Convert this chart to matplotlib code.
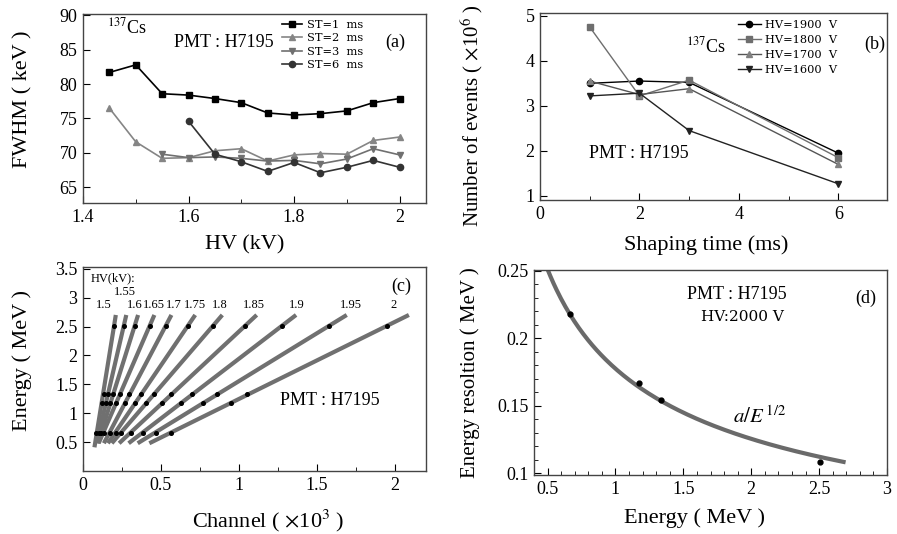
import numpy as np
import matplotlib
matplotlib.use("Agg")
import matplotlib.pyplot as plt
from matplotlib.ticker import MultipleLocator, FormatStrFormatter

plt.rcParams['font.family'] = ['Liberation Serif', 'DejaVu Serif']
plt.rcParams['mathtext.fontset'] = 'stix'

# (a) FWHM vs HV for several shaping times
hv_a = [1.45, 1.5, 1.55, 1.6, 1.65, 1.7, 1.75, 1.8, 1.85, 1.9, 1.95, 2.0]
fwhm_st1 = [81.7, 82.8, 78.6, 78.4, 77.9, 77.3, 75.8, 75.5, 75.7, 76.1, 77.3, 77.9]
fwhm_st2 = [76.5, 71.6, 69.2, 69.3, 70.3, 70.6, 68.8, 69.7, 69.9, 69.8, 71.8, 72.3]
hv_st3 = [1.55, 1.6, 1.65, 1.7, 1.75, 1.8, 1.85, 1.9, 1.95, 2.0]
fwhm_st3 = [69.8, 69.3, 69.4, 69.2, 68.8, 68.9, 68.4, 69.1, 70.6, 69.7]
hv_st6 = [1.6, 1.65, 1.7, 1.75, 1.8, 1.85, 1.9, 1.95, 2.0]
fwhm_st6 = [74.6, 69.8, 68.7, 67.3, 68.6, 67.1, 67.9, 68.9, 67.9]

# (b) number of events vs shaping time
shaping = [1, 2, 3, 6]
ev_1900 = [3.50, 3.55, 3.52, 1.95]
ev_1800 = [4.75, 3.22, 3.57, 1.85]
ev_1700 = [3.55, 3.25, 3.38, 1.70]
ev_1600 = [3.22, 3.28, 2.45, 1.27]

# (c) calibration: channel (x10^3) of each peak for every HV
peak_energy = [0.662, 1.173, 1.333, 2.505]
hv_c = ['1.5', '1.55', '1.6', '1.65', '1.7', '1.75', '1.8', '1.85', '1.9', '1.95', '2']
channels = [
    [0.085, 0.121, 0.132, 0.197],
    [0.103, 0.147, 0.160, 0.261],
    [0.117, 0.176, 0.193, 0.331],
    [0.133, 0.210, 0.235, 0.428],
    [0.171, 0.269, 0.298, 0.530],
    [0.210, 0.334, 0.369, 0.673],
    [0.246, 0.405, 0.453, 0.833],
    [0.310, 0.507, 0.562, 1.040],
    [0.385, 0.629, 0.697, 1.275],
    [0.466, 0.770, 0.857, 1.577],
    [0.566, 0.950, 1.053, 1.947],
]
label_x = [0.133, 0.271, 0.33, 0.453, 0.58, 0.716, 0.88, 1.094, 1.37, 1.72, 1.99]

# (d) energy resolution vs energy at HV = 2000 V
res_energy = [0.662, 1.173, 1.333, 2.505]
resolution = [0.218, 0.1665, 0.154, 0.108]

W, H = 897, 534
fig = plt.figure(figsize=(W / 100, H / 100), dpi=100)


def box(l, r, t, b):
    return [l / W, 1 - b / H, (r - l) / W, (b - t) / H]


def style(ax):
    ax.tick_params(direction='in', which='both', labelsize=13, top=False, right=False, pad=4)
    ax.tick_params(which='major', length=5)
    ax.tick_params(which='minor', length=3)
    for s in ax.spines.values():
        s.set_color('#444444')
        s.set_linewidth(1.0)


def labels(ax, xl, yl, xpos, ypos, ysize=16):
    ax.set_xlabel(xl, fontsize=16, va='center', ha='center')
    ax.set_ylabel(yl, fontsize=ysize, va='center', ha='center')
    ax.xaxis.set_label_coords(*xpos)
    ax.yaxis.set_label_coords(*ypos)


leg_font = dict(family='DejaVu Serif', size=8.2)

# ---- (a)
ax = fig.add_axes(box(83, 426, 14, 203))
ax.plot(hv_a, fwhm_st1, '-s', color='black', lw=1.2, ms=4.5, label='ST=1  ms')
ax.plot(hv_a, fwhm_st2, '-^', color='#858585', lw=1.2, ms=4.5, label='ST=2  ms')
ax.plot(hv_st3, fwhm_st3, '-v', color='#707070', lw=1.2, ms=4.5, label='ST=3  ms')
ax.plot(hv_st6, fwhm_st6, '-o', color='#333333', lw=1.2, ms=4.5, label='ST=6  ms')
ax.set_xlim(1.4, 2.05)
ax.set_ylim(62.7, 90.2)
ax.xaxis.set_major_locator(MultipleLocator(0.2))
ax.xaxis.set_minor_locator(MultipleLocator(0.1))
ax.yaxis.set_major_locator(MultipleLocator(5))
ax.xaxis.set_major_formatter(FormatStrFormatter('%g'))
style(ax)
labels(ax, 'HV (kV)', 'FWHM ( keV )', (0.47, -0.222), (-0.175, 0.55))
ax.text(0.07, 0.93, r'$^{137}$Cs', transform=ax.transAxes, fontsize=13, va='center')
ax.text(0.41, 0.85, 'PMT : H7195', transform=ax.transAxes, fontsize=13, ha='center', va='center')
ax.text(0.91, 0.85, '(a)', transform=ax.transAxes, fontsize=13, ha='center', va='center')
ax.legend(loc='upper left', bbox_to_anchor=(0.58, 0.97), frameon=False, prop=leg_font,
          handlelength=1.8, labelspacing=0.3, borderaxespad=0, borderpad=0, handletextpad=0.4)

# ---- (b)
ax = fig.add_axes(box(540, 887, 13, 200))
ax.plot(shaping, ev_1900, '-o', color='black', lw=1.0, ms=4.5, label='HV=1900  V')
ax.plot(shaping, ev_1800, '-s', color='#6e6e6e', mec='#6e6e6e', lw=1.0, ms=4.5, label='HV=1800  V')
ax.plot(shaping, ev_1700, '-^', color='#555555', mec='#808080', mfc='#808080', lw=1.0, ms=4.5,
        label='HV=1700  V')
ax.plot(shaping, ev_1600, '-v', color='#222222', lw=1.0, ms=4.5, label='HV=1600  V')
ax.set_xlim(0, 6.98)
ax.set_ylim(0.91, 5.06)
ax.xaxis.set_major_locator(MultipleLocator(2))
ax.xaxis.set_minor_locator(MultipleLocator(1))
ax.yaxis.set_major_locator(MultipleLocator(1))
style(ax)
labels(ax, 'Shaping time (ms)', r'Number of events ( $\times$10$^6$ )', (0.48, -0.24), (-0.196, 0.45),
       ysize=15)
ax.text(0.48, 0.82, r'$^{137}$Cs', transform=ax.transAxes, fontsize=13, ha='center', va='center')
ax.text(0.966, 0.835, '(b)', transform=ax.transAxes, fontsize=13, ha='center', va='center')
ax.text(0.285, 0.25, 'PMT : H7195', transform=ax.transAxes, fontsize=13, ha='center', va='center')
ax.legend(loc='upper left', bbox_to_anchor=(0.57, 0.965), frameon=False, prop=leg_font,
          handlelength=2.0, labelspacing=0.45, borderaxespad=0, borderpad=0, handletextpad=0.4)

# ---- (c)
ax = fig.add_axes(box(83, 426, 267, 471))
for i, ch in enumerate(channels):
    slope, icpt = np.polyfit(peak_energy, ch, 1)
    e_lo = 0.41 if i == 0 else 0.48
    e_line = np.array([e_lo, 2.70])
    ax.plot(slope * e_line + icpt, e_line, '-', color='#707070', lw=3.0, solid_capstyle='butt', zorder=2)
    ax.plot(ch, peak_energy, 'o', color='black', ms=2.6, zorder=3)
    ax.text(label_x[i], 3.10 if hv_c[i] == '1.55' else 2.87, hv_c[i], fontsize=9,
            ha='center', va='center', family='Liberation Serif')
ax.text(0.19, 3.33, 'HV(kV):', fontsize=9, ha='center', va='center')
ax.text(2.04, 3.19, '(c)', fontsize=13, ha='center', va='center')
ax.text(1.58, 1.22, 'PMT : H7195', fontsize=13, ha='center', va='center')
ax.set_xlim(0, 2.2)
ax.set_ylim(0, 3.53)
ax.xaxis.set_major_locator(MultipleLocator(0.5))
ax.xaxis.set_minor_locator(MultipleLocator(0.25))
ax.set_yticks([0.5, 1, 1.5, 2, 2.5, 3, 3.5])
ax.xaxis.set_major_formatter(FormatStrFormatter('%g'))
ax.yaxis.set_major_formatter(FormatStrFormatter('%g'))
style(ax)
labels(ax, r'Channel ( $\times$10$^3$ )', 'Energy ( MeV )', (0.54, -0.245), (-0.178, 0.54))

# ---- (d)
ax = fig.add_axes(box(534, 887, 270, 475))
e_pts = np.array(res_energy)
a_fit = np.sum(np.array(resolution) / np.sqrt(e_pts)) / np.sum(1 / e_pts)
e_curve = np.linspace(0.5, 2.68, 200)
ax.plot(e_curve, a_fit / np.sqrt(e_curve), '-', color='#6a6a6a', lw=3.0, zorder=2)
ax.plot(res_energy, resolution, 'o', color='black', ms=3.5, zorder=3)
ax.set_xlim(0.4, 3.0)
ax.set_ylim(0.0987, 0.2505)
ax.xaxis.set_major_locator(MultipleLocator(0.5))
ax.xaxis.set_minor_locator(MultipleLocator(0.1))
ax.yaxis.set_major_locator(MultipleLocator(0.05))
ax.yaxis.set_minor_locator(MultipleLocator(0.01))
ax.xaxis.set_major_formatter(FormatStrFormatter('%g'))
ax.yaxis.set_major_formatter(FormatStrFormatter('%g'))
style(ax)
labels(ax, 'Energy ( MeV )', 'Energy resoltion ( MeV )', (0.456, -0.21), (-0.181, 0.50), ysize=15)
ax.text(0.575, 0.88, 'PMT : H7195', transform=ax.transAxes, fontsize=13, ha='center', va='center')
ax.text(0.59, 0.77, 'HV:2000 V', transform=ax.transAxes, fontsize=11, ha='center', va='center',
        family='DejaVu Serif')
ax.text(0.94, 0.86, '(d)', transform=ax.transAxes, fontsize=13, ha='center', va='center')
ax.text(0.64, 0.28, r'$a/E^{\,\mathrm{1/2}}$', transform=ax.transAxes, fontsize=15, ha='center',
        va='center')

fig.savefig('out.png', dpi=100)
